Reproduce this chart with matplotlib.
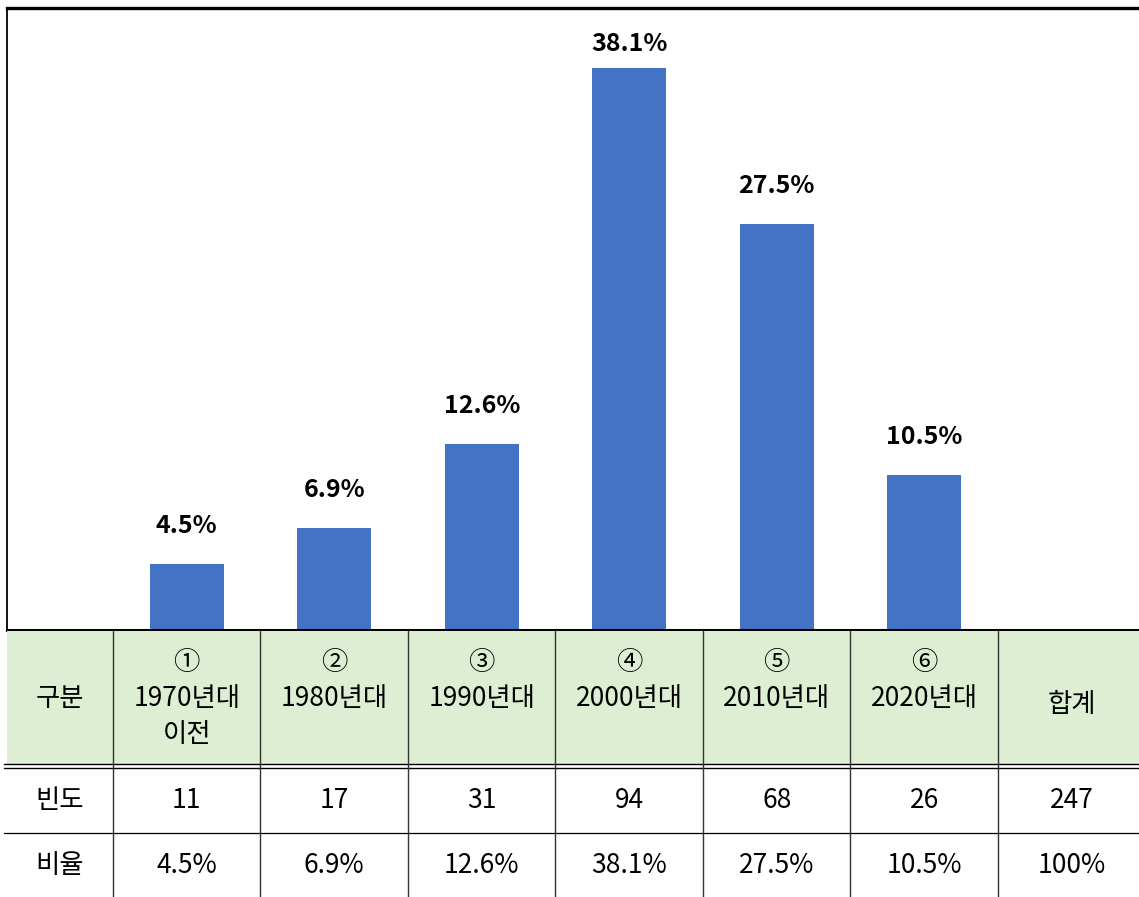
import matplotlib
matplotlib.use("Agg")
import matplotlib.pyplot as plt
from matplotlib.patches import Rectangle

plt.rcParams['font.family'] = ['Noto Sans CJK KR', 'DejaVu Sans']

# ---- data ----
header_first = "구분"
categories = ["①\n1970년대\n이전", "②\n1980년대", "③\n1990년대", "④\n2000년대", "⑤\n2010년대", "⑥\n2020년대"]
total_label = "합계"
row_names = ["빈도", "비율"]
freq = [11, 17, 31, 94, 68, 26]
freq_total = 247
ratio = [4.5, 6.9, 12.6, 38.1, 27.5, 10.5]
ratio_total_label = "100%"

W, H = 1139, 897
fig = plt.figure(figsize=(W / 100, H / 100), dpi=100)

x_left, x_right = -0.2186, 7.456
y_top_val = 42.17

# bar chart axes
ax = fig.add_axes([7 / W, (H - 630) / H, 1 - 7 / W, 622 / H])
xs = list(range(1, len(ratio) + 1))
ax.bar(xs, ratio, width=0.5, color="#4472C4", zorder=2)
ax.set_xlim(x_left, x_right)
ax.set_ylim(0, y_top_val)
ax.set_xticks([])
ax.set_yticks([])
ax.spines["right"].set_visible(False)
ax.spines["top"].set_linewidth(2.4)
ax.spines["left"].set_linewidth(1.3)
ax.spines["bottom"].set_linewidth(2.2)
for s in ax.spines.values():
    s.set_color("black")

ppu = 622 / y_top_val
for x, v in zip(xs, ratio):
    avail = (y_top_val - v) * ppu - 36
    off_px = min(38, avail)
    ax.annotate(f"{v}%", (x, v), xytext=(0, off_px * 0.72), textcoords="offset points",
                ha="center", va="center", fontsize=18, fontweight="bold", color="black")

# table axes
at = fig.add_axes([7 / W, 0, 1 - 7 / W, (H - 630) / H])
at.set_xlim(x_left, x_right)
at.set_ylim(H, 630)
at.axis("off")

at.add_patch(Rectangle((x_left, 631), x_right - x_left, 765 - 631, facecolor="#DDEED3",
                       edgecolor="none", zorder=0))
# horizontal lines
at.plot([x_left - 0.02, x_right], [764.3, 764.3], color="black", lw=1.0, clip_on=False)
at.plot([x_left - 0.02, x_right], [767.7, 767.7], color="black", lw=1.0, clip_on=False)
at.plot([x_left - 0.02, x_right], [832.5, 832.5], color="black", lw=0.9, clip_on=False)
# vertical lines
for i in range(len(categories) + 1):
    xb = i + 0.5
    at.plot([xb, xb], [631, H], color="#333333", lw=1.0)

fs = 19
first_x = (x_left + 0.5) / 2
at.text(first_x, 699, header_first, ha="center", va="center", fontsize=fs)
for i, c in enumerate(categories):
    lines = c.split("\n")
    for j, ln in enumerate(lines):
        at.text(i + 1, 663 + 36 * j, ln, ha="center", va="center", fontsize=fs)
total_x = 7.0
at.text(total_x, 704, total_label, ha="center", va="center", fontsize=fs)

row_y = [800, 865]
at.text(first_x, row_y[0], row_names[0], ha="center", va="center", fontsize=fs)
at.text(first_x, row_y[1], row_names[1], ha="center", va="center", fontsize=fs)
for i, (f, r) in enumerate(zip(freq, ratio)):
    at.text(i + 1, row_y[0], str(f), ha="center", va="center", fontsize=fs)
    at.text(i + 1, row_y[1], f"{r}%", ha="center", va="center", fontsize=fs)
at.text(total_x, row_y[0], str(freq_total), ha="center", va="center", fontsize=fs)
at.text(total_x, row_y[1], ratio_total_label, ha="center", va="center", fontsize=fs)

fig.savefig("out.png", dpi=100, facecolor="white")
